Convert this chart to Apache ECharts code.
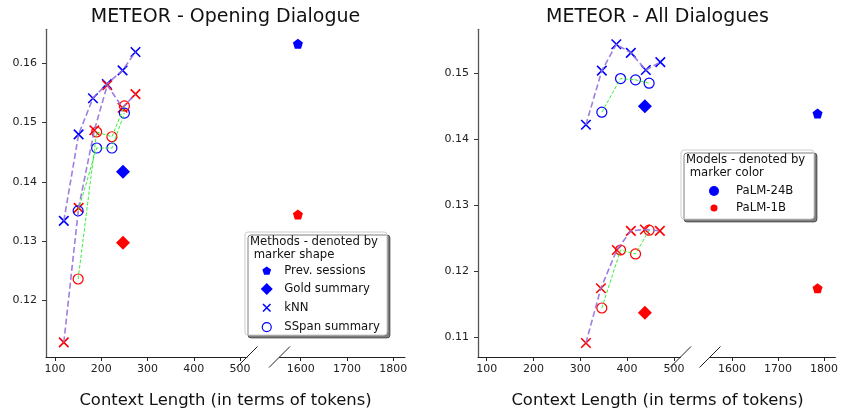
<!DOCTYPE html>
<html>
<head>
<meta charset="utf-8">
<script src="https://cdn.jsdelivr.net/npm/echarts@6/dist/echarts.min.js"></script>
<style>
  html, body { margin: 0; padding: 0; background: #fff; }
  #chart { width: 841px; height: 414px; }
</style>
</head>
<body>
<div id="chart"></div>
<script>
// tick labels
const xTicksShort = [100, 200, 300, 400, 500];
const xTicksLong = [1600, 1700, 1800];
const yTicksOpening = [0.12, 0.13, 0.14, 0.15, 0.16];
const yTicksAll = [0.11, 0.12, 0.13, 0.14, 0.15];

// METEOR - Opening Dialogue
const openPrevX = [1594];
const openPrev24B = [0.1633];
const openPrev1B = [0.1345];
const openGoldX = [247];
const openGold24B = [0.1417];
const openGold1B = [0.1297];
const openKnnX24B = [119, 151, 182, 212, 246, 274];
const openKnn24B = [0.1334, 0.1480, 0.1541, 0.1565, 0.1588, 0.1619];
const openKnnX1B = [119, 151, 185, 213, 246, 274];
const openKnn1B = [0.1129, 0.1356, 0.1487, 0.1563, 0.1525, 0.1548];
const openSspanX = [150, 190, 223, 250];
const openSspan24B = [0.1351, 0.1457, 0.1457, 0.1516];
const openSspan1B = [0.1236, 0.1484, 0.1476, 0.1528];

// METEOR - All Dialogues
const allPrevX = [1786];
const allPrev24B = [0.1439];
const allPrev1B = [0.1174];
const allGoldX = [438];
const allGold24B = [0.1450];
const allGold1B = [0.1137];
const allKnnX24B = [312, 346, 377, 408, 440, 471];
const allKnn24B = [0.1422, 0.1504, 0.1544, 0.1531, 0.1505, 0.1517];
const allKnnX1B = [312, 344, 378, 408, 438, 470];
const allKnn1B = [0.1091, 0.1174, 0.1232, 0.1261, 0.1263, 0.1261];
const allSspanX = [346, 386, 418, 447];
const allSspan24B = [0.1441, 0.1492, 0.1490, 0.1485];
const allSspan1B = [0.1144, 0.1232, 0.1226, 0.1262];

const BLUE = '#0000ff';
const RED = '#ff0000';
const PURPLE = '#9370db';
const GREEN = '#22ee22';
const FONT = 'DejaVu Sans';

const PENTAGON = 'path://M0,-10L9.51,-3.09L5.88,8.09L-5.88,8.09L-9.51,-3.09Z';
const XMARK = 'path://M0,0L10,10M10,0L0,10';
// legend icons, padded so the shapes come out smaller than the diamond
const PENT_ICON = 'path://M-13,-13M13,13M0,-10L9.51,-3.09L5.88,8.09L-5.88,8.09L-9.51,-3.09Z';
const DIAM_ICON = 'path://M0,-7L7,0L0,7L-7,0Z';
const X_ICON = 'path://M-3,-3M13,13M0,0L10,10M10,0L0,10';
const CIRC_ICON = 'path://M-6,-6M6,6M4.5,0A4.5,4.5,0,1,1,-4.5,0A4.5,4.5,0,1,1,4.5,0Z';
const DOT_BIG = 'path://M-6,-6M6,6M5,0A5,5,0,1,1,-5,0A5,5,0,1,1,5,0Z';
const DOT_SMALL = 'path://M-6,-6M6,6M3.5,0A3.5,3.5,0,1,1,-3.5,0A3.5,3.5,0,1,1,3.5,0Z';

const zip = (xs, ys) => xs.map((x, i) => [x, ys[i]]);

function marks(name, g, xs, ys, kind, color) {
  const s = { type: 'scatter', name: name, xAxisIndex: g, yAxisIndex: g, data: zip(xs, ys), z: 4, silent: true };
  if (kind === 'prev') {
    s.symbol = PENTAGON; s.symbolSize = 10;
    s.itemStyle = { color: color, opacity: 1 };
  } else if (kind === 'gold') {
    s.symbol = 'diamond'; s.symbolSize = 14;
    s.itemStyle = { color: color, opacity: 1 };
  } else if (kind === 'knn') {
    s.symbol = XMARK; s.symbolSize = 9.5;
    s.itemStyle = { color: color, borderColor: color, borderWidth: 1.6, opacity: 1 };
  } else {
    s.symbol = 'circle'; s.symbolSize = 10;
    s.itemStyle = { color: 'rgba(0,0,0,0)', borderColor: color, borderWidth: 1.2, opacity: 1 };
  }
  return s;
}

function link(g, xs, ys, color, width, dash) {
  return {
    type: 'line', name: 'link', xAxisIndex: g, yAxisIndex: g, data: zip(xs, ys),
    symbol: 'none', showSymbol: false, silent: true, z: 5,
    lineStyle: { color: color, width: width, type: dash, opacity: 0.9 }
  };
}

const axisTxt = { color: '#222', fontSize: 11, fontFamily: FONT };

function xAxis(g, min, max, ticks) {
  return {
    type: 'value', gridIndex: g, min: min, max: max,
    axisLine: { show: true, lineStyle: { color: '#222', width: 1 } },
    axisTick: { show: true, length: 4, customValues: ticks, lineStyle: { color: '#222' } },
    axisLabel: Object.assign({ customValues: ticks, margin: 7, formatter: v => String(v) }, axisTxt),
    splitLine: { show: false }
  };
}

function yAxis(g, min, max, ticks, visible) {
  return {
    type: 'value', gridIndex: g, min: min, max: max, show: visible,
    axisLine: { show: true, lineStyle: { color: '#555', width: 1.3 } },
    axisTick: { show: true, length: 4, customValues: ticks, lineStyle: { color: '#333' } },
    axisLabel: Object.assign({ customValues: ticks, margin: 9, formatter: v => v.toFixed(2) }, axisTxt),
    splitLine: { show: false }
  };
}

const gridTop = 29.3, gridH = 327.7;
const grids = [
  { left: 46, top: gridTop, width: 201, height: gridH },
  { left: 279.5, top: gridTop, width: 125.5, height: gridH },
  { left: 478, top: gridTop, width: 202.5, height: gridH },
  { left: 710, top: gridTop, width: 127.3, height: gridH }
];

const series = [
  // opening dialogue
  marks('Prev. sessions', 1, openPrevX, openPrev24B, 'prev', BLUE),
  marks('Prev. sessions', 1, openPrevX, openPrev1B, 'prev', RED),
  marks('Gold summary', 0, openGoldX, openGold24B, 'gold', BLUE),
  marks('Gold summary', 0, openGoldX, openGold1B, 'gold', RED),
  marks('kNN', 0, openKnnX24B, openKnn24B, 'knn', BLUE),
  marks('kNN', 0, openKnnX1B, openKnn1B, 'knn', RED),
  marks('SSpan summary', 0, openSspanX, openSspan24B, 'sspan', BLUE),
  marks('SSpan summary', 0, openSspanX, openSspan1B, 'sspan', RED),
  link(0, openKnnX24B, openKnn24B, PURPLE, 1.6, [6, 3]),
  link(0, openKnnX1B, openKnn1B, PURPLE, 1.6, [6, 3]),
  link(0, openSspanX, openSspan24B, GREEN, 1, [3.5, 1.8]),
  link(0, openSspanX, openSspan1B, GREEN, 1, [3.5, 1.8]),
  // all dialogues
  marks('PaLM-24B', 3, allPrevX, allPrev24B, 'prev', BLUE),
  marks('PaLM-1B', 3, allPrevX, allPrev1B, 'prev', RED),
  marks('PaLM-24B', 2, allGoldX, allGold24B, 'gold', BLUE),
  marks('PaLM-1B', 2, allGoldX, allGold1B, 'gold', RED),
  marks('PaLM-24B', 2, allKnnX24B, allKnn24B, 'knn', BLUE),
  marks('PaLM-1B', 2, allKnnX1B, allKnn1B, 'knn', RED),
  marks('PaLM-24B', 2, allSspanX, allSspan24B, 'sspan', BLUE),
  marks('PaLM-1B', 2, allSspanX, allSspan1B, 'sspan', RED),
  link(2, allKnnX24B, allKnn24B, PURPLE, 1.6, [6, 3]),
  link(2, allKnnX1B, allKnn1B, PURPLE, 1.6, [6, 3]),
  link(2, allSspanX, allSspan24B, GREEN, 1, [3.5, 1.8]),
  link(2, allSspanX, allSspan1B, GREEN, 1, [3.5, 1.8])
];

const legendTxt = { color: '#111', fontSize: 11.7, fontFamily: FONT, lineHeight: 12 };

const legends = [
  {
    orient: 'vertical', left: 260, top: 265, itemWidth: 25, itemHeight: 12, itemGap: 6,
    padding: 0, selectedMode: false, textStyle: legendTxt, z: 6,
    data: [
      { name: 'Prev. sessions', icon: PENT_ICON, itemStyle: { color: BLUE, borderWidth: 0, opacity: 1 } },
      { name: 'Gold summary', icon: DIAM_ICON, itemStyle: { color: BLUE, borderWidth: 0, opacity: 1 } },
      { name: 'kNN', icon: X_ICON, itemStyle: { color: BLUE, borderColor: BLUE, borderWidth: 1.5, opacity: 1 } },
      { name: 'SSpan summary', icon: CIRC_ICON, itemStyle: { color: 'rgba(0,0,0,0)', borderColor: BLUE, borderWidth: 1.2, opacity: 1 } }
    ]
  },
  {
    orient: 'vertical', left: 708, top: 185, itemWidth: 34, itemHeight: 12, itemGap: 5,
    padding: 0, selectedMode: false, textStyle: legendTxt, z: 6,
    data: [
      { name: 'PaLM-24B', icon: DOT_BIG, itemStyle: { color: BLUE, borderWidth: 0, opacity: 1 } },
      { name: 'PaLM-1B', icon: DOT_SMALL, itemStyle: { color: RED, borderWidth: 0, opacity: 1 } }
    ]
  }
];

function txt(x, y, text, size, align) {
  return {
    type: 'text', x: x, y: y, z: 10, silent: true,
    style: { text: text, fill: '#111', fontSize: size, fontFamily: FONT, align: align || 'center', verticalAlign: 'middle' }
  };
}
function box(x1, y1, x2, y2) {
  return {
    type: 'rect', z: 1, silent: true,
    shape: { x: x1, y: y1, width: x2 - x1, height: y2 - y1, r: 3 },
    style: { fill: '#fff', stroke: '#cccccc', lineWidth: 1, shadowColor: 'rgba(0,0,0,0.5)', shadowOffsetX: 3, shadowOffsetY: 3, shadowBlur: 0 }
  };
}
function brk(cx, cy) {
  return {
    type: 'line', z: 10, silent: true,
    shape: { x1: cx - 10.5, y1: cy + 10.5, x2: cx + 10.5, y2: cy - 10.5 },
    style: { stroke: '#222', lineWidth: 1 }
  };
}

const graphics = [
  txt(225.5, 17, 'METEOR - Opening Dialogue', 19),
  txt(657.5, 17, 'METEOR - All Dialogues', 19),
  txt(225.5, 401, 'Context Length (in terms of tokens)', 16.4),
  txt(657.5, 401, 'Context Length (in terms of tokens)', 16.4),
  box(245, 232, 387, 335),
  txt(250, 242, 'Methods - denoted by', 11.7, 'left'),
  txt(250, 255, ' marker shape', 11.7, 'left'),
  box(681, 150, 814, 219),
  txt(686, 160, 'Models - denoted by', 11.7, 'left'),
  txt(686, 173, ' marker color', 11.7, 'left'),
  brk(247, 357), brk(279.5, 357),
  brk(680.5, 357), brk(710, 357)
];

const chart = echarts.init(document.getElementById('chart'), null, { renderer: 'canvas' });
chart.setOption({
  animation: false,
  backgroundColor: '#fff',
  grid: grids,
  xAxis: [
    xAxis(0, 80.5, 515.1, xTicksShort),
    xAxis(1, 1554.2, 1825.3, xTicksLong),
    xAxis(2, 81.4, 514.1, xTicksShort),
    xAxis(3, 1552.2, 1824.8, xTicksLong)
  ],
  yAxis: [
    yAxis(0, 0.11044, 0.16573, yTicksOpening, true),
    yAxis(1, 0.11044, 0.16573, yTicksOpening, false),
    yAxis(2, 0.10697, 0.15667, yTicksAll, true),
    yAxis(3, 0.10697, 0.15667, yTicksAll, false)
  ],
  legend: legends,
  graphic: graphics,
  series: series
});
</script>
</body>
</html>
